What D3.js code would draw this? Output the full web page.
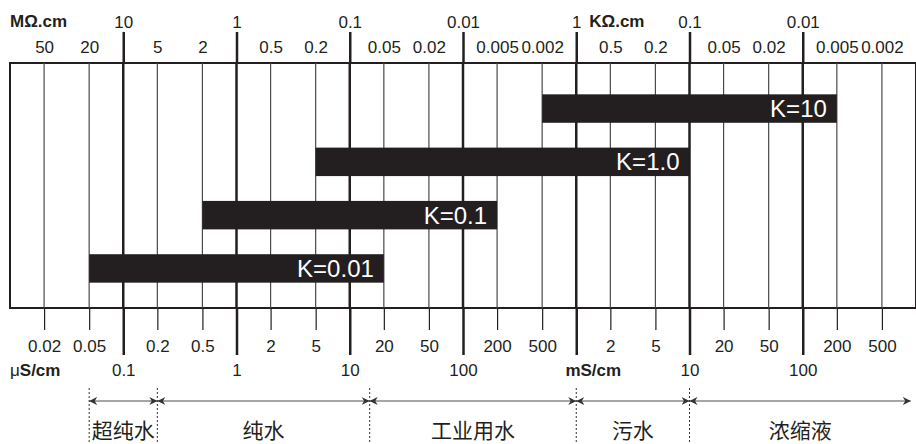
<!DOCTYPE html>
<html>
<head>
<meta charset="utf-8">
<script src="https://cdn.jsdelivr.net/npm/d3@7"></script>
<style>
  body { margin: 0; background: #fff; }
  text { font-family: "Liberation Sans", Arial, sans-serif; fill: #231f20; }
</style>
</head>
<body>
<script>
// conductivity values in uS/cm
var majorValues = [0.1, 1, 10, 100, 1000, 10000, 100000];
var bottomMajorLabels = ["0.1", "1", "10", "100", "", "10", "100"];
var topMajorLabels = ["10", "1", "0.1", "0.01", "1", "0.1", "0.01"];

var minorValues = [0.02, 0.05, 0.2, 0.5, 2, 5, 20, 50, 200, 500, 2000, 5000, 20000, 50000, 200000, 500000];
var bottomMinorLabels = ["0.02", "0.05", "0.2", "0.5", "2", "5", "20", "50", "200", "500", "2", "5", "20", "50", "200", "500"];
var topMinorLabels = ["50", "20", "5", "2", "0.5", "0.2", "0.05", "0.02", "0.005", "0.002", "0.5", "0.2", "0.05", "0.02", "0.005", "0.002"];

// cell constant bars
var cellConstants = ["K=10", "K=1.0", "K=0.1", "K=0.01"];
var rangeLow = [500, 5, 0.5, 0.05];
var rangeHigh = [200000, 10000, 200, 20];

// water types along the bottom
var zoneNames = ["超纯水", "纯水", "工业用水", "污水", "浓缩液"];
var zoneStart = [0.05, 0.2, 15, 1000, 10000];
var zoneEnd = [0.2, 15, 1000, 10000, 900000];

var width = 916, height = 444;
var boxTop = 63, boxBottom = 308;
var ink = "#231f20";

var svg = d3.select("body").append("svg")
  .attr("width", width).attr("height", height);

var x = d3.scaleLog().domain([0.01, 1e6]).range([10, 916]);
var y = d3.scaleBand().domain(cellConstants).range([81, 296])
  .paddingInner(0.466).paddingOuter(0.25);

// box
svg.append("rect")
  .attr("x", x(0.01)).attr("y", boxTop)
  .attr("width", x(1e6) - x(0.01)).attr("height", boxBottom - boxTop)
  .attr("fill", "#fff").attr("stroke", ink).attr("stroke-width", 2);

// grid lines inside the box
svg.selectAll("line.minor").data(minorValues).enter().append("line")
  .attr("x1", function(d){ return x(d); }).attr("x2", function(d){ return x(d); })
  .attr("y1", boxTop).attr("y2", boxBottom)
  .attr("stroke", "#4a4a4a").attr("stroke-width", 1.2);

svg.selectAll("line.major").data(majorValues).enter().append("line")
  .attr("x1", function(d){ return x(d); }).attr("x2", function(d){ return x(d); })
  .attr("y1", boxTop).attr("y2", boxBottom)
  .attr("stroke", ink).attr("stroke-width", 2.5);

// bars
svg.selectAll("rect.bar").data(cellConstants).enter().append("rect")
  .attr("x", function(d, i){ return x(rangeLow[i]); })
  .attr("y", function(d){ return y(d); })
  .attr("width", function(d, i){ return x(rangeHigh[i]) - x(rangeLow[i]); })
  .attr("height", y.bandwidth())
  .attr("fill", ink);

svg.selectAll("text.bar").data(cellConstants).enter().append("text")
  .attr("x", function(d, i){ return x(rangeHigh[i]) - 10; })
  .attr("y", function(d){ return y(d) + y.bandwidth() / 2; })
  .attr("dy", "0.36em")
  .attr("text-anchor", "end")
  .style("font-size", "24px")
  .style("fill", "#fff")
  .text(function(d){ return d; });

// axes
function styleAxis(g, w) {
  g.select(".domain").remove();
  g.selectAll(".tick line").attr("stroke", ink).attr("stroke-width", w);
  g.selectAll(".tick text").style("font-size", "17px").attr("fill", ink)
    .style("font-family", "'Liberation Sans', Arial, sans-serif");
}

svg.append("g").attr("transform", "translate(0," + boxTop + ")")
  .call(d3.axisTop(x).tickValues(majorValues).tickSize(31).tickPadding(4)
    .tickFormat(function(d, i){ return topMajorLabels[i]; }))
  .call(styleAxis, 2.5);

svg.append("g").attr("transform", "translate(0," + boxTop + ")")
  .call(d3.axisTop(x).tickValues(minorValues).tickSize(0).tickPadding(10)
    .tickFormat(function(d, i){ return topMinorLabels[i]; }))
  .call(styleAxis, 0);

svg.append("g").attr("transform", "translate(0," + boxBottom + ")")
  .call(d3.axisBottom(x).tickValues(majorValues).tickSize(47).tickPadding(9)
    .tickFormat(function(d, i){ return bottomMajorLabels[i]; }))
  .call(styleAxis, 2.5);

svg.append("g").attr("transform", "translate(0," + boxBottom + ")")
  .call(d3.axisBottom(x).tickValues(minorValues).tickSize(22).tickPadding(10)
    .tickFormat(function(d, i){ return bottomMinorLabels[i]; }))
  .call(styleAxis, 1.2);

// unit labels
svg.append("text").attr("x", 10).attr("y", 27)
  .style("font-size", "17px").style("font-weight", "bold").text("MΩ.cm");
svg.append("text").attr("x", x(1000) + 13).attr("y", 27)
  .style("font-size", "17px").style("font-weight", "bold").text("KΩ.cm");
var us = svg.append("text").attr("x", 10).attr("y", 376).style("font-size", "17px");
us.append("tspan").text("μ");
us.append("tspan").style("font-weight", "bold").text("S/cm");
svg.append("text").attr("x", x(1000) + 17).attr("y", 376)
  .attr("text-anchor", "middle")
  .style("font-size", "17px").style("font-weight", "bold").text("mS/cm");

// arrows
var defs = svg.append("defs");
defs.append("marker").attr("id", "head").attr("viewBox", "0 0 10 10")
  .attr("refX", 10).attr("refY", 5).attr("markerWidth", 8).attr("markerHeight", 8)
  .attr("markerUnits", "userSpaceOnUse").attr("orient", "auto-start-reverse")
  .append("path").attr("d", "M0,0 L10,5 L0,10 L3,5 Z").attr("fill", "#333");

var arrowY = 401;
svg.selectAll("line.zone").data(zoneNames).enter().append("line")
  .attr("x1", function(d, i){ return x(zoneStart[i]); })
  .attr("x2", function(d, i){ return x(zoneEnd[i]); })
  .attr("y1", arrowY).attr("y2", arrowY)
  .attr("stroke", "#888").attr("stroke-width", 1.6)
  .attr("marker-start", "url(#head)").attr("marker-end", "url(#head)");

svg.selectAll("line.bound").data(zoneStart).enter().append("line")
  .attr("x1", function(d){ return x(d); }).attr("x2", function(d){ return x(d); })
  .attr("y1", 388).attr("y2", height)
  .attr("stroke", "#333").attr("stroke-width", 1).attr("stroke-dasharray", "2,2");

svg.selectAll("text.zone").data(zoneNames).enter().append("text")
  .attr("x", function(d, i){ return (x(zoneStart[i]) + x(zoneEnd[i])) / 2; })
  .attr("y", 438)
  .attr("text-anchor", "middle")
  .style("font-family", "'Noto Sans CJK SC', sans-serif")
  .style("font-size", "21px")
  .text(function(d){ return d; });
</script>
</body>
</html>
